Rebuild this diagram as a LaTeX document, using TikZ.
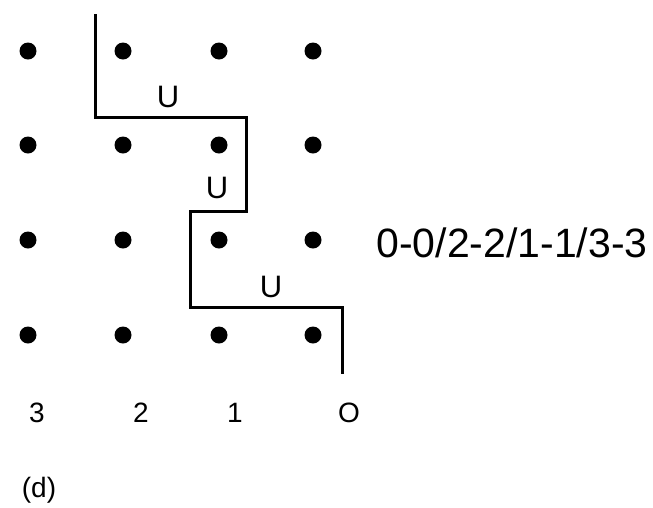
\documentclass[tikz,border=0pt]{standalone}
\usepackage{fontspec}
\setmainfont{Liberation Sans}
\usetikzlibrary{positioning}
\tikzset{
  pt/.style={circle,fill,minimum size=17pt,inner sep=0pt},
  route/.style={line width=3pt,line join=miter},
  ulbl/.style={inner sep=0pt,font=\fontsize{31}{36}\selectfont},
  col/.style={inner sep=0pt,font=\fontsize{28}{32}\selectfont},
  code/.style={inner sep=0pt,font=\fontsize{41}{48}\selectfont},
}
\begin{document}
\begin{tikzpicture}[x=1pt,y=-1pt]
  \useasboundingbox (0,0) rectangle (653,507);
  % lattice points, column c, row r
  \foreach \c/\x in {3/28,2/123,1/219,0/313}
    \foreach \r/\y in {0/51,1/145,2/240,3/335}
      \node[pt] (p\c\r) at (\x,\y) {};
  % corners of the path
  \coordinate (s) at (95,14);
  \coordinate (k1) at (95,117);
  \coordinate (k2) at (246,117);
  \coordinate (k3) at (246,211);
  \coordinate (k4) at (190,211);
  \coordinate (k5) at (190,307);
  \coordinate (k6) at (342,307);
  \coordinate (e) at (342,374);
  \draw[route] (s) -- (k1) -- (k2) -- (k3) -- (k4) -- (k5) -- (k6) -- (e);
  \node[ulbl] (u1) at (168,97) {U};
  \node[ulbl] (u2) at (217,188) {U};
  \node[ulbl] (u3) at (271,287) {U};
  \node[col] (c3) at (37,413) {3};
  \node[col] (c2) at (141,413) {2};
  \node[col] (c1) at (235,413) {1};
  \node[col] (c0) at (349,413) {O};
  \node[code] (lbl) at (512,243) {0-0/2-2/1-1/3-3};
  \node[col] (tag) at (39,490) {(d)};
\end{tikzpicture}
\end{document}
